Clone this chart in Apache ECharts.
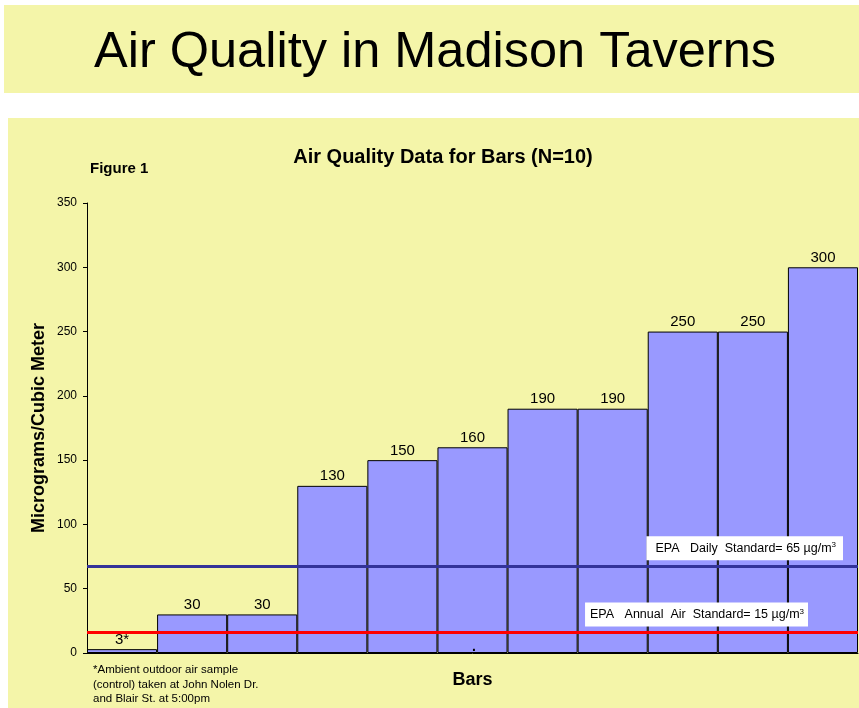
<!DOCTYPE html>
<html>
<head>
<meta charset="utf-8">
<script src="https://cdn.jsdelivr.net/npm/echarts@6/dist/echarts.min.js"></script>
<style>
  body { margin: 0; background: #fff; }
  #chart { width: 859px; height: 708px; }
</style>
</head>
<body>
<div id="chart"></div>
<script>
// data
var barNames = ['Control', 'Bar 1', 'Bar 2', 'Bar 3', 'Bar 4', 'Bar 5', 'Bar 6', 'Bar 7', 'Bar 8', 'Bar 9', 'Bar 10'];
var barValues = [3, 30, 30, 130, 150, 160, 190, 190, 250, 250, 300];
var barLabels = ['3*', '30', '30', '130', '150', '160', '190', '190', '250', '250', '300'];
var dailyStd = 67.5;   // drawn a little above 65 in the picture
var annualStd = 16;
var yTicks = { min: 0, max: 350, step: 50 };

var yellow = '#f4f5a9';
var chart = echarts.init(document.getElementById('chart'));

chart.setOption({
  animation: false,
  textStyle: { fontFamily: 'Liberation Sans, Arial, sans-serif' },
  graphic: [
    // top banner
    { type: 'rect', z: -10, shape: { x: 4, y: 5, width: 855, height: 88 }, style: { fill: yellow } },
    { type: 'text', z: 10, x: 435, y: 53,
      style: { text: 'Air Quality in Madison Taverns', fontSize: 50.5, align: 'center', verticalAlign: 'middle',
        fontFamily: 'Liberation Sans, Arial, sans-serif', fill: '#000' } },
    // chart panel
    { type: 'rect', z: -10, shape: { x: 8, y: 118, width: 851, height: 590 }, style: { fill: yellow } },
    { type: 'text', left: 90, top: 161,
      style: { text: 'Figure 1', fontSize: 15, fontWeight: 'bold', fill: '#000' } },
    { type: 'text', left: 93, top: 663,
      style: { text: '*Ambient outdoor air sample\n(control) taken at John Nolen Dr.\nand Blair St. at 5:00pm',
        fontSize: 11.5, lineHeight: 14.5, fill: '#000' } },
    { type: 'text', left: 472, top: 640, z: 20,
      style: { text: '.', fontSize: 14, fontWeight: 'bold', fill: '#000' } }
  ],
  title: {
    text: 'Air Quality Data for Bars (N=10)',
    left: 438, textAlign: 'center', top: 142,
    textStyle: { fontSize: 20, fontWeight: 'bold', color: '#000' }
  },
  grid: { left: 87, right: 1, top: 203, bottom: 55 },
  xAxis: {
    type: 'category',
    data: barNames,
    name: 'Bars', nameLocation: 'middle', nameGap: 18,
    nameTextStyle: { fontSize: 18, fontWeight: 'bold', color: '#000' },
    axisLine: { lineStyle: { color: '#000', width: 1 } },
    axisTick: { show: false },
    axisLabel: { show: false }
  },
  yAxis: {
    type: 'value',
    min: yTicks.min, max: yTicks.max, interval: yTicks.step,
    name: 'Micrograms/Cubic Meter', nameLocation: 'middle', nameGap: 39,
    nameMoveOverlap: false,
    nameTextStyle: { fontSize: 18, fontWeight: 'bold', color: '#000' },
    axisLine: { show: true, lineStyle: { color: '#000', width: 1 } },
    axisTick: { show: true, length: 4, lineStyle: { color: '#000' } },
    axisLabel: { fontSize: 12, color: '#000', margin: 10 },
    splitLine: { show: false }
  },
  series: [{
    type: 'bar',
    data: barValues,
    barCategoryGap: 0,
    itemStyle: { color: '#9999ff', borderColor: '#000', borderWidth: 1 },
    label: {
      show: true, position: 'top', distance: 2, fontSize: 15, color: '#000',
      formatter: function (p) { return barLabels[p.dataIndex]; }
    },
    markLine: {
      silent: true,
      symbol: 'none',
      data: [
        { yAxis: dailyStd,
          lineStyle: { color: '#333399', width: 3, type: 'solid' },
          label: { show: true, position: 'insideEndTop', offset: [-10, -1],
            backgroundColor: '#fff', padding: [5, 7, 5, 9],
            formatter: '{a|EPA   Daily  Standard= 65 µg/m}{s|3}',
            rich: { a: { fontSize: 12.5, color: '#000' }, s: { fontSize: 8, color: '#000', verticalAlign: 'top', padding: [0, 0, 6, 0] } } } },
        { yAxis: annualStd,
          lineStyle: { color: '#ff0000', width: 3, type: 'solid' },
          label: { show: true, position: 'insideEndTop', offset: [-45, -1],
            backgroundColor: '#fff', padding: [5, 4, 5, 5],
            formatter: '{a|EPA   Annual  Air  Standard= 15 µg/m}{s|3}',
            rich: { a: { fontSize: 12.5, color: '#000' }, s: { fontSize: 8, color: '#000', verticalAlign: 'top', padding: [0, 0, 6, 0] } } } }
      ]
    }
  }]
});
</script>
</body>
</html>
